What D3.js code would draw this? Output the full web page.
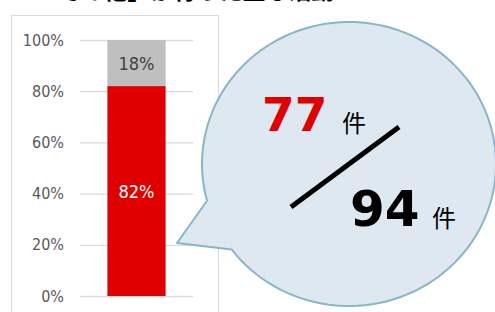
<!DOCTYPE html>
<html>
<head>
<meta charset="utf-8">
<script src="https://cdn.jsdelivr.net/npm/d3@7"></script>
<style>
  body { margin: 0; background: #fff; }
  svg { display: block; }
</style>
</head>
<body>
<svg width="495" height="312"></svg>
<script>
// shares of the stacked bar (percent)
const segments = ["実施", "未実施"]
const shares = [82, 18]
const segColors = ["#e00000", "#bfbfbf"]
const labelColors = ["#ffffff", "#404040"]
const ticks = [0, 20, 40, 60, 80, 100]
// counts in the bubble
const counts = [77, 94]
const unit = "件"
const title = "・「その他」が行った主な活動"

const svg = d3.select("svg")
const narrow = "'Liberation Sans Narrow', 'DejaVu Sans Condensed', sans-serif"
const jp = "'Noto Sans CJK JP', sans-serif"

// title, cut by the top edge as in the source
svg.append("text")
  .attr("x", 24).attr("y", -1)
  .attr("font-family", jp).attr("font-weight", "bold")
  .attr("font-size", 23).attr("fill", "#000")
  .text(title)

// chart frame
svg.append("rect")
  .attr("x", 11.5).attr("y", 15.5)
  .attr("width", 207).attr("height", 320)
  .attr("fill", "#fff").attr("stroke", "#d9d9d9")

const y = d3.scaleLinear().domain([0, 100]).range([296, 40])
const x = d3.scaleBand().domain(["all"]).range([80, 193]).padding(0.32)

// gridlines
svg.append("g").selectAll("line").data(ticks).join("line")
  .attr("x1", 80).attr("x2", 193)
  .attr("y1", d => y(d) + 0.5).attr("y2", d => y(d) + 0.5)
  .attr("stroke", "#d9d9d9").attr("stroke-width", 1.3)

// axis labels
const axis = d3.axisLeft(y).tickValues(ticks).tickFormat(d => d + "%").tickSize(0).tickPadding(0)
const ag = svg.append("g").attr("transform", "translate(64,0)").call(axis)
ag.select(".domain").remove()
ag.selectAll("text")
  .attr("font-family", narrow).attr("font-size", 16).attr("fill", "#595959")

// stacked bar
const stack = []
let acc = 0
shares.forEach((v, i) => { stack.push({ name: segments[i], v0: acc, v1: acc + v, v, i }); acc += v })

const bars = svg.append("g")
bars.selectAll("rect").data(stack).join("rect")
  .attr("x", x("all")).attr("width", x.bandwidth())
  .attr("y", d => y(d.v1)).attr("height", d => y(d.v0) - y(d.v1))
  .attr("fill", d => segColors[d.i])
bars.selectAll("text").data(stack).join("text")
  .attr("x", x("all") + x.bandwidth() / 2)
  .attr("y", d => y((d.v0 + d.v1) / 2) + 7)
  .attr("text-anchor", "middle")
  .attr("font-family", narrow).attr("font-size", 18)
  .attr("fill", d => labelColors[d.i])
  .text(d => d.v + "%")

// speech bubble: ellipse with a tail pointing left
const cx = 349, cy = 164, rx = 147, ry = 142
const aStart = 165 * Math.PI / 180, aEnd = 143 * Math.PI / 180
const pt = a => [cx + rx * Math.cos(a), cy + ry * Math.sin(a)]
const p = d3.path()
p.moveTo(...pt(aStart))
p.lineTo(177, 243)
p.lineTo(...pt(aEnd))
const steps = 120
const span = 2 * Math.PI - (aStart - aEnd)
for (let k = 1; k <= steps; k++) {
  p.lineTo(...pt(aEnd - (k / steps) * span))
}
p.closePath()
svg.append("path").attr("d", p.toString())
  .attr("fill", "#dde8f0").attr("stroke", "#89b5c9").attr("stroke-width", 2)
  .attr("stroke-linejoin", "round")

const sans = "'DejaVu Sans', sans-serif"
svg.append("text").attr("x", 262).attr("y", 131)
  .attr("font-family", sans).attr("font-weight", "bold").attr("font-size", 47)
  .attr("fill", "#e00000").text(counts[0])
svg.append("text").attr("x", 342).attr("y", 132)
  .attr("font-family", jp).attr("font-size", 24).attr("fill", "#000").text(unit)
svg.append("line")
  .attr("x1", 291).attr("y1", 207).attr("x2", 399).attr("y2", 127)
  .attr("stroke", "#000").attr("stroke-width", 5)
svg.append("text").attr("x", 350).attr("y", 226)
  .attr("font-family", sans).attr("font-weight", "bold").attr("font-size", 50)
  .attr("fill", "#000").text(counts[1])
svg.append("text").attr("x", 432).attr("y", 227)
  .attr("font-family", jp).attr("font-size", 24).attr("fill", "#000").text(unit)
</script>
</body>
</html>
